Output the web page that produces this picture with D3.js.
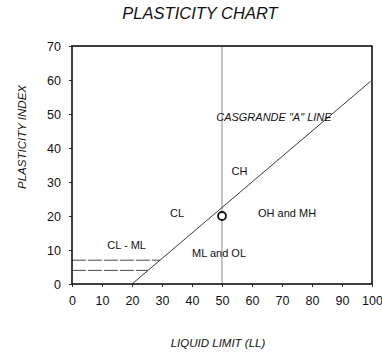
<!DOCTYPE html>
<html>
<head>
<meta charset="utf-8">
<script src="https://cdn.jsdelivr.net/npm/d3@7"></script>
<style>
  html, body { margin: 0; padding: 0; background: #fff; }
  svg { display: block; }
  text { font-family: "Liberation Sans", Arial, sans-serif; fill: #111; }
</style>
</head>
<body>
<script>
// ---- data ----
const xTicks = [0, 10, 20, 30, 40, 50, 60, 70, 80, 90, 100];
const yTicks = [0, 10, 20, 30, 40, 50, 60, 70];
const aLineLL = [20, 99.5];
const aLinePI = [0, 59.6];
const dividerLL = [50, 50];
const dividerPI = [0, 70];
const dashPI = [7, 4];
const dashEndLL = [29.3, 25.3];
const pointLL = [50];
const pointPI = [20];
const regionNames = ["CASGRANDE \"A\" LINE", "CH", "CL", "OH and MH", "CL - ML", "ML and OL"];
const regionLL = [67.3, 55.8, 35, 71.7, 18.2, 49];
const regionPI = [49.1, 33.2, 20.9, 20.9, 11.5, 9.1];
const regionItalic = [true, false, false, false, false, false];

// ---- layout ----
const W = 382, H = 355;
const margin = { left: 72, right: 10, top: 46, bottom: 71 };
const svg = d3.select("body").append("svg").attr("width", W).attr("height", H);

const x = d3.scaleLinear().domain([0, 100]).range([margin.left, W - margin.right]);
const y = d3.scaleLinear().domain([0, 70]).range([H - margin.bottom, margin.top]);

// title
svg.append("text").attr("x", 200).attr("y", 19).attr("text-anchor", "middle")
  .style("font-size", "16.5px").style("font-style", "italic").text("PLASTICITY CHART");

// axis titles
svg.append("text").attr("transform", `translate(26,${(y(0)+y(70))/2 - 28}) rotate(-90)`)
  .attr("text-anchor", "middle").style("font-size", "11.5px").style("font-style", "italic")
  .text("PLASTICITY INDEX");
svg.append("text").attr("x", 218).attr("y", 347).attr("text-anchor", "middle")
  .style("font-size", "11.5px").style("font-style", "italic").text("LIQUID LIMIT (LL)");

// axes
const xAxis = d3.axisBottom(x).tickValues(xTicks).tickSize(3).tickPadding(9);
const yAxis = d3.axisLeft(y).tickValues(yTicks).tickSize(3).tickPadding(8);
const gx = svg.append("g").attr("transform", `translate(0,${y(0)})`).call(xAxis);
const gy = svg.append("g").attr("transform", `translate(${x(0)},0)`).call(yAxis);
[gx, gy].forEach(g => {
  g.select(".domain").remove();
  g.selectAll("line").attr("stroke", "#333");
  g.selectAll("text").style("font-size", "12.5px").style("font-family", "'Liberation Sans', Arial, sans-serif").attr("fill", "#111");
});

// divider line LL=50
svg.append("line")
  .attr("x1", x(dividerLL[0])).attr("y1", y(dividerPI[0]))
  .attr("x2", x(dividerLL[1])).attr("y2", y(dividerPI[1]))
  .attr("stroke", "#888").attr("stroke-width", 1);

// dashed CL-ML band lines
dashPI.forEach((pi, i) => {
  svg.append("line")
    .attr("x1", x(0)).attr("y1", y(pi))
    .attr("x2", x(dashEndLL[i])).attr("y2", y(pi))
    .attr("stroke", "#333").attr("stroke-width", 0.9)
    .attr("stroke-dasharray", "14,2");
});

// A-line
const line = d3.line().x(d => x(d[0])).y(d => y(d[1]));
svg.append("path").datum(aLineLL.map((v, i) => [v, aLinePI[i]]))
  .attr("d", line).attr("fill", "none").attr("stroke", "#222").attr("stroke-width", 0.9);

// point
svg.selectAll("circle.pt").data(pointLL.map((v, i) => [v, pointPI[i]])).enter()
  .append("circle").attr("class", "pt")
  .attr("cx", d => x(d[0])).attr("cy", d => y(d[1])).attr("r", 4)
  .attr("fill", "#fff").attr("stroke", "#111").attr("stroke-width", 1.8);

// region labels
svg.selectAll("text.region").data(regionNames).enter()
  .append("text").attr("class", "region")
  .attr("x", (d, i) => x(regionLL[i])).attr("y", (d, i) => y(regionPI[i]))
  .attr("dy", "0.35em").attr("text-anchor", "middle")
  .style("font-size", "11px")
  .style("font-style", (d, i) => regionItalic[i] ? "italic" : "normal")
  .text(d => d);

// frame
svg.append("rect").attr("x", x(0)).attr("y", y(70))
  .attr("width", x(100) - x(0)).attr("height", y(0) - y(70))
  .attr("fill", "none").attr("stroke", "#111").attr("stroke-width", 1.6);
</script>
</body>
</html>
